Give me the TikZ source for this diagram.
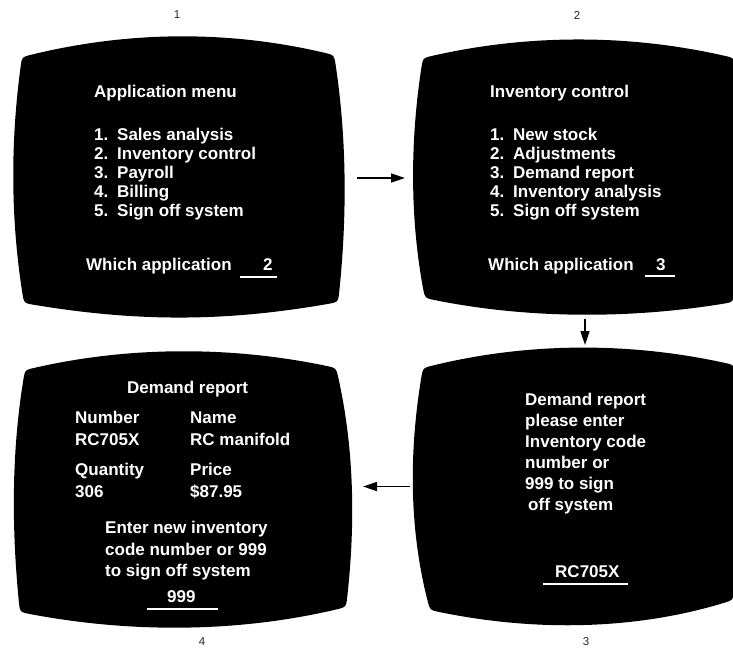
\documentclass[tikz,border=0pt]{standalone}
\usepackage{fontspec}
\setmainfont{Liberation Sans}
\usetikzlibrary{arrows.meta}

\tikzset{
  crt/.style={fill=black},
  holder/.style={inner sep=0pt, outer sep=0pt},
  scr/.style={anchor=base west, inner sep=0pt, text=white,
              font=\bfseries\fontsize{17}{20}\selectfont},
  panelno/.style={inner sep=0pt, text=black!85,
              font=\fontsize{11.5}{13}\selectfont},
  flow/.style={line width=1.6pt, -{Triangle[length=14pt,width=9pt]}},
  uline/.style={white, line width=1.3pt},
}
\newcommand{\itm}[2]{\makebox[23pt][l]{#1}#2}

\begin{document}
\begin{tikzpicture}[x=1pt, y=-1pt]
\useasboundingbox (0,0) rectangle (733,654);
\clip (0,0) rectangle (733,654);

% ---- screen faces: bulging edges, softly rounded corners
\fill[crt] (31,54.8) .. controls (128,31) and (228,30) .. (325,52.9)
  .. controls (334,55) .. (335.5,64)
  .. controls (347,140) and (347,218) .. (339.1,293)
  .. controls (338,302) .. (329.2,303.7)
  .. controls (225,322) and (137,322) .. (32.8,304.6)
  .. controls (24,303) .. (22.5,294)
  .. controls (10.5,218) and (10.5,142) .. (20.7,66)
  .. controls (22,57) .. (31,54.8) -- cycle;
\fill[crt] (432,55.9) .. controls (528,34) and (629,34) .. (725,55.9)
  .. controls (734,58) .. (735,67)
  .. controls (743,142) and (743,218) .. (734.2,293)
  .. controls (733,302) .. (724.1,303.6)
  .. controls (630,319) and (528,319) .. (433.8,299.9)
  .. controls (425,298) .. (423.2,289.2)
  .. controls (410,218) and (410,142) .. (421.5,66.9)
  .. controls (423,58) .. (432,55.9) -- cycle;
\fill[crt] (431.7,365.8) .. controls (528,342) and (630,342) .. (725.2,363)
  .. controls (734,365) .. (735.1,373.9)
  .. controls (743,447) and (743,518) .. (734.2,591.1)
  .. controls (733,600) .. (724.4,602.7)
  .. controls (632,631) and (531,631) .. (438.8,611.9)
  .. controls (430,610) .. (427.7,601.3)
  .. controls (409,528) and (409,452) .. (421.4,376.9)
  .. controls (423,368) .. (431.7,365.8) -- cycle;
\fill[crt] (33.8,368) .. controls (129,346) and (232,346) .. (327.2,366.1)
  .. controls (336,368) .. (338.1,376.8)
  .. controls (355,452) and (355,528) .. (347.1,598.1)
  .. controls (346,607) .. (337.3,609.2)
  .. controls (237,633) and (129,633) .. (28.8,613.8)
  .. controls (20,612) .. (19,603)
  .. controls (11.5,528) and (11.5,452) .. (23.5,378.9)
  .. controls (25,370) .. (33.8,368) -- cycle;

% ---- invisible frames giving each screen its anchors
\node[holder, minimum width=332pt, minimum height=280pt] (s1) at (179,178) {};
\node[holder, minimum width=328pt, minimum height=275pt] (s2) at (577,177.5) {};
\node[holder, minimum width=328pt, minimum height=277pt] (s3) at (577,486.5) {};
\node[holder, minimum width=338pt, minimum height=276pt] (s4) at (183,490) {};

% ---- panel numbers
\node[panelno] (n1) at (177,15) {1};
\node[panelno] (n2) at (577,15) {2};
\node[panelno] (n3) at (586,642) {3};
\node[panelno] (n4) at (202,642) {4};

% ---- screen 1: application menu
\node[scr] (a0) at (94,97)  {Application menu};
\node[scr] (a1) at (94,140) {\itm{1.}{Sales analysis}};
\node[scr] (a2) at (94,159) {\itm{2.}{Inventory control}};
\node[scr] (a3) at (94,178) {\itm{3.}{Payroll}};
\node[scr] (a4) at (94,197) {\itm{4.}{Billing}};
\node[scr] (a5) at (94,216) {\itm{5.}{Sign off system}};
\node[scr] (a6) at (86,270) {Which application};
\node[scr] (a7) at (263,270) {2};
\draw[uline] (240,277) -- (277,277);

% ---- screen 2: inventory control
\node[scr] (b0) at (490,97)  {Inventory control};
\node[scr] (b1) at (490,140) {\itm{1.}{New stock}};
\node[scr] (b2) at (490,159) {\itm{2.}{Adjustments}};
\node[scr] (b3) at (490,178) {\itm{3.}{Demand report}};
\node[scr] (b4) at (490,197) {\itm{4.}{Inventory analysis}};
\node[scr] (b5) at (490,216) {\itm{5.}{Sign off system}};
\node[scr] (b6) at (488,270) {Which application};
\node[scr] (b7) at (656,270) {3};
\draw[uline] (645,276) -- (675,276);

% ---- screen 3: code entry
\node[scr] (c0) at (525,405) {Demand report};
\node[scr] (c1) at (525,426) {please enter};
\node[scr] (c2) at (525,447) {Inventory code};
\node[scr] (c3) at (525,468) {number or};
\node[scr] (c4) at (525,489) {999 to sign};
\node[scr] (c5) at (528,510) {off system};
\node[scr] (c6) at (555,577) {RC705X};
\draw[uline] (543,584) -- (628,584);

% ---- screen 4: demand report
\node[scr] (d0) at (127,393) {Demand report};
\node[scr] (d1) at (75,423)  {Number};
\node[scr] (d2) at (190,423) {Name};
\node[scr] (d3) at (75,445)  {RC705X};
\node[scr] (d4) at (190,445) {RC manifold};
\node[scr] (d5) at (75,475)  {Quantity};
\node[scr] (d6) at (190,475) {Price};
\node[scr] (d7) at (75,497)  {306};
\node[scr] (d8) at (190,497) {\$87.95};
\node[scr] (d9) at (105,533) {Enter new inventory};
\node[scr] (d10) at (105,555) {code number or 999};
\node[scr] (d11) at (105,576) {to sign off system};
\node[scr] (d12) at (167,602) {999};
\draw[uline] (147,609) -- (218,609);

% ---- flow between screens
\draw[flow, shorten <=12pt, shorten >=8pt] (s1.east) -- (s1.east -| s2.west);
\draw[flow, shorten <=4pt, shorten >=3pt] ([xshift=8pt]s2.south) -- ([xshift=8pt]s3.north);
\draw[flow, shorten <=3pt, shorten >=11pt] (s3.west) -- (s3.west -| s4.east);
\end{tikzpicture}
\end{document}
